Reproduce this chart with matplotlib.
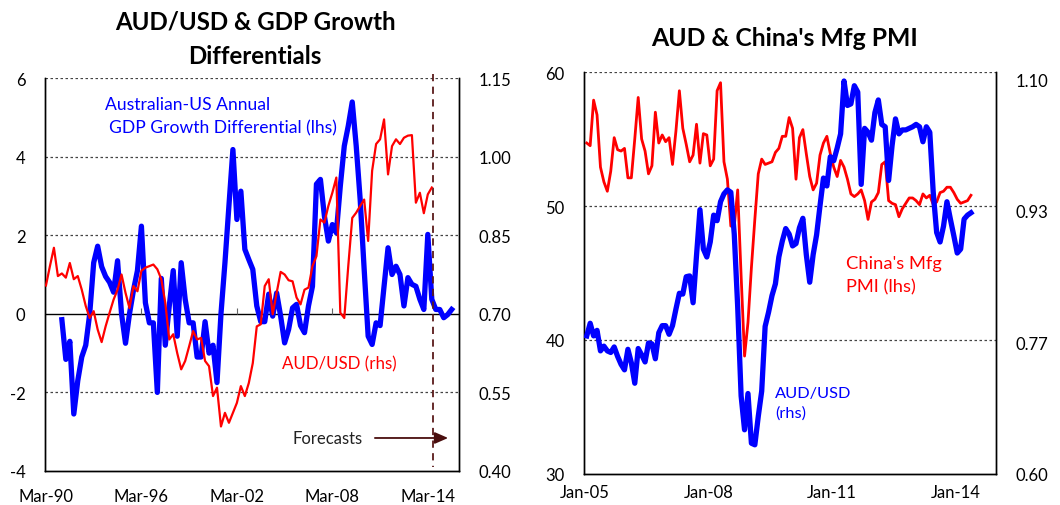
import matplotlib
matplotlib.use("Agg")
import matplotlib.pyplot as plt
import numpy as np

plt.rcParams['font.family'] = ['Lato', 'DejaVu Sans']

# ---------------- Left panel data (quarterly, Mar-90 = 1990.0) ----------------
gdp_diff = [-0.15, -1.16, -0.7, -2.55, -1.7, -1.1, -0.8, 0.0, 1.3, 1.72,
            1.2, 0.95, 0.8, 0.55, 1.35, 0.0, -0.75, 0.0, 0.6, 1.1,
            2.23, 0.28, -0.23, -0.23, -2.0, 0.9, -0.8, 0.2, 1.1, -0.57,
            1.3, 0.37, -0.23, -0.23, -1.1, -1.1, -0.2, -1.0, -0.8, -1.75,
            0.0, 1.3, 2.75, 4.18, 2.4, 3.12, 1.64, 1.38, 1.13, 0.2,
            -0.2, -0.2, 0.5, -0.06, 0.53, -0.06, -0.74, -0.4, 0.15, 0.24,
            -0.3, -0.48, 0.2, 0.7, 3.3, 3.42, 2.49, 1.85, 2.27, 2.06,
            3.25, 4.27, 4.78, 5.39, 4.27, 2.9, 1.13, -0.57, -0.78, -0.23,
            -0.3, 0.7, 1.68, 1.0, 1.21, 1.0, 0.2, 0.92, 0.75, 0.7,
            0.37, 0.11, 2.02, 0.37, 0.11, 0.11, -0.1, -0.02, 0.11]
gdp_start = 1991.0

aud_q = [0.754, 0.791, 0.826, 0.772, 0.777, 0.769, 0.797, 0.766, 0.772, 0.746,
         0.715, 0.692, 0.705, 0.670, 0.646, 0.676, 0.702, 0.727, 0.746, 0.775,
         0.740, 0.711, 0.753, 0.743, 0.782, 0.788, 0.791, 0.794, 0.785, 0.766,
         0.721, 0.651, 0.661, 0.625, 0.594, 0.610, 0.638, 0.667, 0.651, 0.654,
         0.610, 0.600, 0.543, 0.559, 0.485, 0.511, 0.492, 0.511, 0.530, 0.562,
         0.543, 0.568, 0.606, 0.676, 0.680, 0.753, 0.766, 0.699, 0.740, 0.780,
         0.775, 0.764, 0.762, 0.731, 0.718, 0.746, 0.750, 0.791, 0.810, 0.880,
         0.874, 0.906, 0.931, 0.960, 0.702, 0.692, 0.791, 0.883, 0.893, 0.906,
         0.918, 0.839, 0.973, 1.024, 1.033, 1.071, 0.966, 1.020, 1.033, 1.024,
         1.036, 1.040, 1.041, 0.912, 0.931, 0.892, 0.928, 0.941]
aud_q_start = 1990.0

left_xticks = [1990, 1996, 2002, 2008, 2014]
left_xlabels = ['Mar-90', 'Mar-96', 'Mar-02', 'Mar-08', 'Mar-14']
left_lhs_ticks = [-4, -2, 0, 2, 4, 6]
left_rhs_ticks = [0.40, 0.55, 0.70, 0.85, 1.00, 1.15]
forecast_start = 2014.35

# ---------------- Right panel data (monthly, Jan-05 = 0) ----------------
pmi = [54.7, 54.5, 57.9, 56.8, 52.9, 51.8, 51.1, 52.6, 55.1, 54.2, 54.1, 54.3,
       52.1, 52.1, 55.0, 58.1, 55.0, 54.1, 52.4, 53.0, 57.0, 54.7, 55.3, 54.8,
       55.1, 53.1, 55.6, 58.6, 55.8, 54.6, 53.3, 53.8, 56.1, 53.2, 55.4, 55.3,
       53.0, 53.5, 58.6, 59.2, 53.3, 52.0, 48.5, 48.5, 51.2, 44.8, 38.8, 41.3,
       45.4, 49.0, 52.4, 53.5, 53.1, 53.2, 53.3, 54.0, 54.3, 55.2, 55.2, 56.6,
       55.8, 52.0, 55.1, 55.7, 53.9, 52.2, 51.2, 51.7, 53.8, 54.7, 55.2, 53.9,
       52.9, 52.2, 53.4, 52.9, 52.0, 50.9, 50.7, 50.9, 51.2, 50.4, 49.0, 50.3,
       50.5, 51.0, 53.1, 53.3, 50.4, 50.2, 50.1, 49.2, 49.8, 50.2, 50.6, 50.6,
       50.4, 50.1, 50.9, 50.6, 50.8, 50.1, 50.3, 51.0, 51.1, 51.4, 51.4, 51.0,
       50.5, 50.2, 50.3, 50.4, 50.8]

aud_m = [0.775, 0.791, 0.775, 0.782, 0.756, 0.762, 0.756, 0.754, 0.761, 0.749, 0.739, 0.732,
         0.758, 0.741, 0.715, 0.759, 0.751, 0.742, 0.766, 0.765, 0.746, 0.779, 0.788, 0.788,
         0.777, 0.788, 0.809, 0.829, 0.828, 0.850, 0.851, 0.817, 0.877, 0.935, 0.885, 0.875,
         0.894, 0.928, 0.921, 0.945, 0.955, 0.960, 0.957, 0.904, 0.812, 0.699, 0.656, 0.702,
         0.639, 0.637, 0.673, 0.705, 0.787, 0.805, 0.826, 0.841, 0.875, 0.895, 0.911, 0.904,
         0.889, 0.892, 0.912, 0.924, 0.878, 0.843, 0.878, 0.903, 0.940, 0.975, 0.965, 1.002,
         0.997, 1.013, 1.031, 1.098, 1.067, 1.069, 1.092, 1.084, 0.967, 1.038, 1.033, 1.023,
         1.058, 1.074, 1.043, 1.040, 0.972, 1.016, 1.050, 1.031, 1.036, 1.036, 1.038, 1.040,
         1.043, 1.040, 1.021, 1.040, 1.033, 0.957, 0.906, 0.894, 0.914, 0.945, 0.923, 0.902,
         0.880, 0.885, 0.923, 0.928, 0.931]

right_xticks = [0, 36, 72, 108]
right_xlabels = ['Jan-05', 'Jan-08', 'Jan-11', 'Jan-14']
right_lhs_ticks = [30, 40, 50, 60]
right_rhs_ticks = [0.60, 0.60 + 1/6, 0.60 + 2/6, 1.10]

BLUE = '#0000FF'
RED = '#FF0000'
FS = 12

fig = plt.figure(figsize=(10.6, 5.06), dpi=100)

def style_axes(ax, ax2):
    ax.spines['top'].set_visible(False)
    ax2.spines['top'].set_visible(False)
    for a in (ax, ax2):
        for s in ('left', 'right', 'bottom'):
            a.spines[s].set_color('black')
            a.spines[s].set_linewidth(1.0)
    ax.tick_params(axis='both', length=0, labelsize=FS, colors='black')
    ax2.tick_params(axis='both', length=0, labelsize=FS, colors='black')
    ax.tick_params(axis='y', pad=14)
    ax2.tick_params(axis='y', pad=14)

# ================= Left panel =================
axL = fig.add_axes([45/1060, 1 - 472/506, 414/1060, 393/506])
axL2 = axL.twinx()
x_gdp = gdp_start + np.arange(len(gdp_diff)) / 4.0
x_audq = aud_q_start + np.arange(len(aud_q)) / 4.0

axL.set_xlim(1989.94, 2015.96)
axL.set_ylim(-4, 6)
axL2.set_ylim(0.40, 1.15)
for v in left_lhs_ticks:
    if v == 0:
        axL.axhline(v, color='black', lw=1.0, zorder=1)
    elif v != -4:
        axL.axhline(v, color='#444444', lw=0.9, ls=(0, (2, 2)), zorder=1)
axL.vlines(left_xticks[1:4], 0, 0.15, color='#666666', lw=0.8, zorder=1)

axL.plot(x_gdp, gdp_diff, color=BLUE, lw=3.8, solid_joinstyle='round', zorder=3)
axL2.plot(x_audq, aud_q, color=RED, lw=1.6, solid_joinstyle='round', zorder=3)

axL.set_xticks(left_xticks)
axL.set_xticklabels(left_xlabels)
axL.set_yticks(left_lhs_ticks)
axL.set_yticklabels([str(v) for v in left_lhs_ticks])
axL2.set_yticks(left_rhs_ticks)
axL2.set_yticklabels(['%.2f' % v for v in left_rhs_ticks])
style_axes(axL, axL2)
axL.tick_params(axis='x', pad=12)

axL.plot([forecast_start, forecast_start], [6.1, -3.9], color='#5a1a1a', lw=1.3,
         ls=(0, (4, 3)), clip_on=False, zorder=4)
axL.annotate('', xy=(2015.45, -3.16), xytext=(2010.5, -3.16),
             arrowprops=dict(arrowstyle='-|>,head_length=0.8,head_width=0.35',
                             color='#4a0e0e', lw=1.3), zorder=5)
axL.text(2007.67, -3.16, 'Forecasts', ha='center', va='center', fontsize=FS, color='#222222')
axL.text(1993.72, 5.34, 'Australian-US Annual', color=BLUE, fontsize=12.6, ha='left', va='center')
axL.text(1993.98, 4.75, 'GDP Growth Differential (lhs)', color=BLUE, fontsize=12.6, ha='left', va='center')
axL.text(2004.84, -1.25, 'AUD/USD (rhs)', color=RED, fontsize=12.2, ha='left', va='center')

fig.text(255/1060, 1 - 22/506, 'AUD/USD & GDP Growth', ha='center', va='center',
         fontsize=17.3, fontweight='bold')
fig.text(255/1060, 1 - 56/506, 'Differentials', ha='center', va='center',
         fontsize=17.3, fontweight='bold')

# ================= Right panel =================
axR = fig.add_axes([584/1060, 1 - 475/506, 412/1060, 402/506])
axR2 = axR.twinx()
x_m = np.arange(len(pmi)) + 0.5
x_m2 = np.arange(len(aud_m)) + 0.5
axR.set_xlim(-0.3, 119.8)
axR.set_ylim(30, 60)
axR2.set_ylim(0.60, 1.1094)
for v in right_lhs_ticks[1:]:
    axR.axhline(v, color='#444444', lw=0.9, ls=(0, (2, 2)), zorder=1)

axR.plot(x_m, pmi, color=RED, lw=2.0, solid_joinstyle='round', zorder=3)
axR2.plot(x_m2, aud_m, color=BLUE, lw=3.8, solid_joinstyle='round', zorder=3)

axR.set_xticks(right_xticks)
axR.set_xticklabels(right_xlabels)
axR.set_yticks(right_lhs_ticks)
axR.set_yticklabels([str(v) for v in right_lhs_ticks])
axR2.set_yticks(right_rhs_ticks)
axR2.set_yticklabels(['%.2f' % v for v in right_rhs_ticks])
style_axes(axR, axR2)
axR.tick_params(axis='x', pad=7)

axR.text(76.1, 45.76, "China's Mfg", color=RED, fontsize=13.2, ha='left', va='center')
axR.text(76.1, 43.97, 'PMI (lhs)', color=RED, fontsize=13.2, ha='left', va='center')
axR.text(55.4, 36.06, 'AUD/USD', color=BLUE, fontsize=11.8, ha='left', va='center')
axR.text(55.4, 34.57, '(rhs)', color=BLUE, fontsize=11.8, ha='left', va='center')

fig.text(785/1060, 1 - 38/506, "AUD & China's Mfg PMI", ha='center', va='center',
         fontsize=17.8, fontweight='bold')

fig.savefig('out.png', dpi=100)
